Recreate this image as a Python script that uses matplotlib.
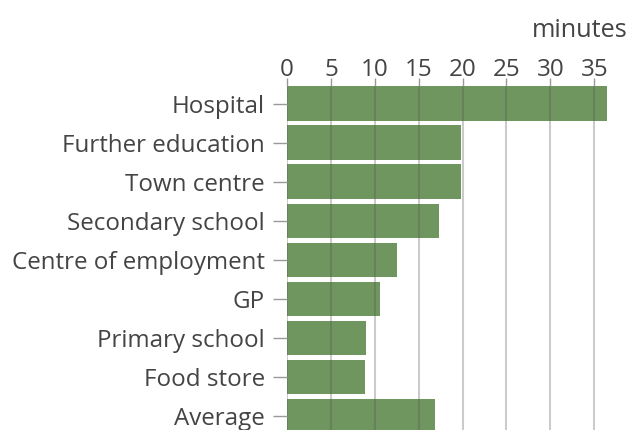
import matplotlib.pyplot as plt

# Data: average minutes to reach key services
services = ['Hospital', 'Further education', 'Town centre', 'Secondary school',
            'Centre of employment', 'GP', 'Primary school', 'Food store', 'Average']
minutes = [36.5, 19.8, 19.8, 17.3, 12.5, 10.6, 9.0, 8.9, 16.9]
xticks = [0, 5, 10, 15, 20, 25, 30, 35]

plt.rcParams['font.family'] = ['Open Sans', 'DejaVu Sans']

fig = plt.figure(figsize=(6.33, 4.30), dpi=100)
ax = fig.add_axes([0.4535, 0.0, 0.961 - 0.4535, 0.80])

pos = list(range(len(services)))
ax.barh(pos, minutes, height=0.88, color='#6f965f', zorder=2)

ax.set_xlim(0, 36.6)
ax.set_ylim(8.36, -0.45)
ax.set_yticks(pos)
ax.set_yticklabels(services)
ax.set_xticks(xticks)

ax.xaxis.tick_top()
ax.grid(axis='x', color='#555555', alpha=0.3, linewidth=1.5, zorder=3)
ax.set_axisbelow(False)

for s in ax.spines.values():
    s.set_visible(False)

ax.tick_params(axis='y', length=10, width=1, color='#999999', pad=6,
               labelsize=17.4, labelcolor='#444444')
ax.tick_params(axis='x', length=6, width=1, color='#999999', pad=-3,
               labelsize=17.4, labelcolor='#444444')

fig.text(0.991, 0.915, 'minutes', ha='right', va='baseline',
         fontsize=18.2, color='#444444')

fig.savefig('out.png', dpi=100)
